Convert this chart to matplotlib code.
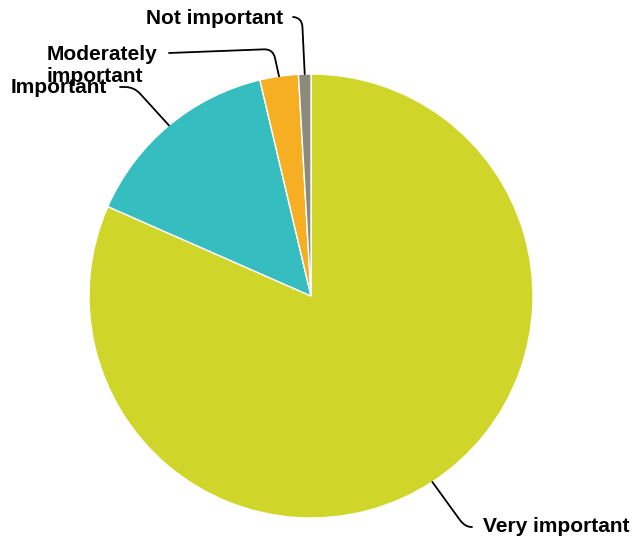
import numpy as np
import matplotlib.pyplot as plt
from matplotlib.path import Path
from matplotlib.patches import PathPatch

plt.rcParams['font.family'] = ['Liberation Sans', 'DejaVu Sans']

labels = ['Very important', 'Important', 'Moderately\nimportant', 'Not important']
shares = [81.6, 14.7, 2.8, 0.9]
colors = ['#d0d52a', '#36bdbf', '#f6ae22', '#8b8a7b']

W, H = 634, 541
CX, CY, R = 311, 296, 222

# label placement: text anchor, alignment, and connector (end point, bend point)
label_pos = [(483, 532, 'left'), (107, 93, 'right'), (157, 82, 'right'), (283, 24, 'right')]
conn_end = [(472, 527), (120, 87), (169, 53), (293, 17)]
conn_bend = [(465, 527), (134, 87), (273, 49), (302, 18)]


def fy(y):
    # pixel rows run downward, the axes run upward
    return H - y


def connector(ax, anchor, bend, end, d=9):
    a, b, e = np.array(anchor), np.array(bend), np.array(end)
    p1 = b + (e - b) * min(d, np.linalg.norm(e - b) * 0.9) / np.linalg.norm(e - b)
    p2 = b + (a - b) * d / np.linalg.norm(a - b)
    pts = [e, p1, b, p2, a]
    pts = [(x, fy(y)) for x, y in pts]
    codes = [Path.MOVETO, Path.LINETO, Path.CURVE3, Path.CURVE3, Path.LINETO]
    ax.add_patch(PathPatch(Path(pts, codes), fill=False, lw=1.3, ec='black',
                           capstyle='round', joinstyle='round'))


fig = plt.figure(figsize=(W / 100, H / 100), dpi=100)
ax = fig.add_axes([0, 0, 1, 1])

wedges, _ = ax.pie(shares, colors=colors, startangle=90, counterclock=False,
                   center=(CX, fy(CY)), radius=R,
                   wedgeprops=dict(linewidth=1, edgecolor='white'))
ax.set_xlim(0, W)
ax.set_ylim(0, H)
ax.set_aspect('equal')
ax.axis('off')

for w, lab, (tx, ty, ha), e, b in zip(wedges, labels, label_pos, conn_end, conn_bend):
    mid = np.deg2rad((w.theta1 + w.theta2) / 2)
    anchor = (CX + R * np.cos(mid), CY - R * np.sin(mid))
    connector(ax, anchor, b, e)
    ax.text(tx, fy(ty), lab, ha=ha, va='baseline', multialignment='left',
            fontsize=15, fontweight='bold', color='black', linespacing=1.2)

fig.savefig('out.png', dpi=100)
